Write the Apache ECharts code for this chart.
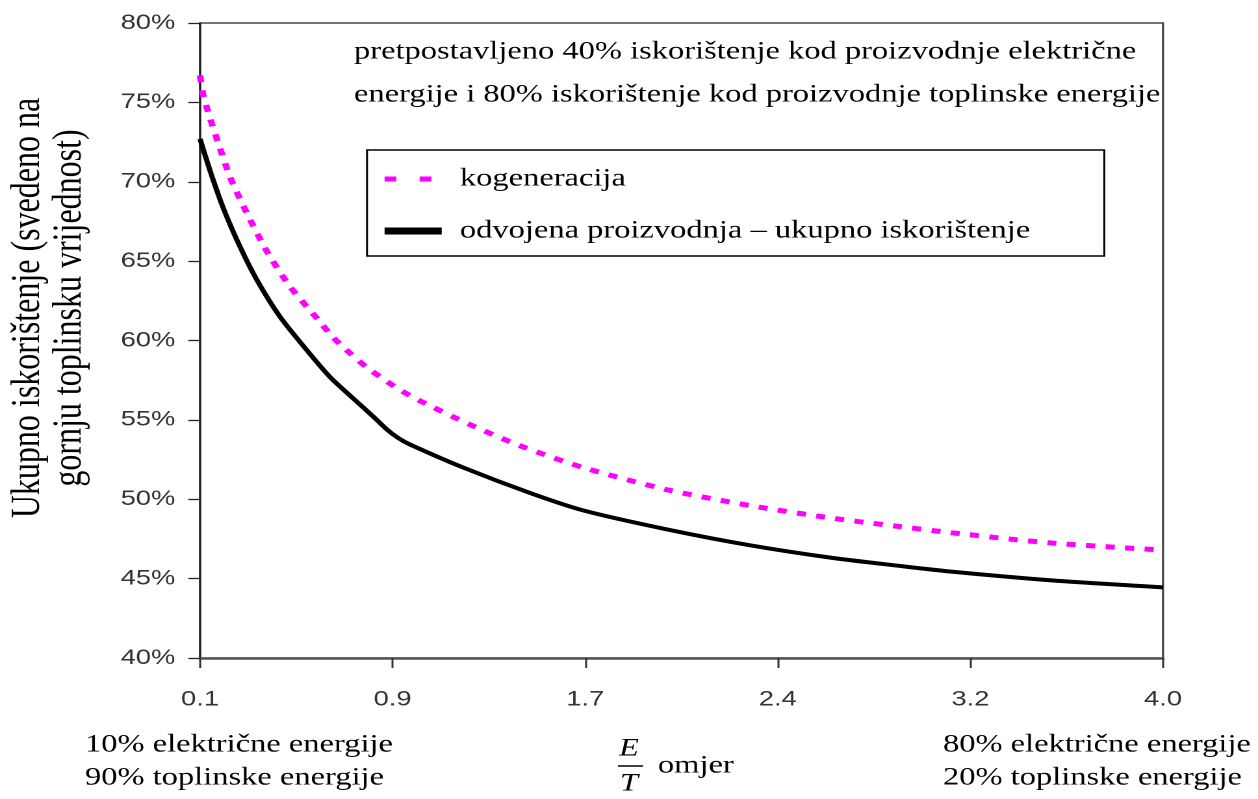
<!DOCTYPE html>
<html>
<head>
<meta charset="utf-8">
<script src="https://cdn.jsdelivr.net/npm/echarts@6/dist/echarts.min.js"></script>
<style>
  html, body { margin: 0; padding: 0; background: #fff; }
  #wrap { width: 1258px; height: 799px; overflow: hidden; position: relative; }
  #chart { width: 968px; height: 799px; transform: scaleX(1.29959); transform-origin: 0 0; }
</style>
</head>
<body>
<div id="wrap"><div id="chart"></div></div>
<script>
// ---- data (x = position along the E/T axis in tick steps, y = %) ----
const xTickLabels = ['0.1', '0.9', '1.7', '2.4', '3.2', '4.0'];
const seriesNames = ['kogeneracija', 'odvojena proizvodnja – ukupno iskorištenje'];

const cogenX = [0, 0.016, 0.052, 0.093, 0.156, 0.244, 0.348, 0.467, 0.607, 0.691, 0.779, 0.867, 1.023, 1.142, 1.402, 1.677, 1.989, 2.425, 2.856, 3.287, 3.619, 3.894, 4.413, 5.0];
const cogenY = [76.7, 75.5, 74.0, 72.5, 70.3, 68.0, 65.6, 63.4, 61.4, 60.2, 59.2, 58.3, 57.0, 56.2, 54.7, 53.3, 52.0, 50.6, 49.6, 48.8, 48.3, 47.9, 47.25, 46.8];

const sepX = [0, 0.052, 0.119, 0.208, 0.296, 0.415, 0.554, 0.675, 0.80, 0.90, 0.97, 1.03, 1.09, 1.366, 1.713, 1.989, 2.425, 2.856, 3.287, 3.634, 3.894, 4.413, 5.0];
const sepY = [72.7, 70.7, 68.4, 65.9, 63.8, 61.5, 59.4, 57.7, 56.3, 55.2, 54.4, 53.85, 53.45, 52.0, 50.4, 49.3, 48.1, 47.1, 46.3, 45.8, 45.45, 44.9, 44.45];

const yAxisTitle = 'Ukupno iskorištenje (svedeno na\ngornju toplinsku vrijednost)';
const noteLines = ['pretpostavljeno 40% iskorištenje kod proizvodnje električne',
                   'energije i 80% iskorištenje kod proizvodnje toplinske energije'];
const leftBottom = ['10% električne energije', '90% toplinske energije'];
const rightBottom = ['80% električne energije', '20% toplinske energije'];

const zip = (xs, ys) => xs.map((x, i) => [x, ys[i]]);
const serif = '"Liberation Serif", "Times New Roman", serif';
const sans = '"Liberation Sans", Arial, sans-serif';

const chart = echarts.init(document.getElementById('chart'), null, { renderer: 'canvas', devicePixelRatio: 2 });

function txt(x, y, text, opts) {
  return {
    type: 'text', x: x, y: y, silent: true,
    style: Object.assign({ text: text, fontFamily: serif, fontSize: 25, fill: '#000', align: 'left', verticalAlign: 'middle' }, opts || {})
  };
}

chart.setOption({
  animation: false,
  grid: { left: 153.9, right: 73.1, top: 23, bottom: 141, show: true, borderColor: '#444', borderWidth: 1.6, backgroundColor: 'transparent' },
  xAxis: {
    type: 'value', min: 0, max: 5, interval: 1,
    axisLine: { show: true, lineStyle: { color: '#555', width: 2.5 } },
    axisTick: { show: true, length: 10, lineStyle: { color: '#333', width: 1.5 } },
    splitLine: { show: false },
    axisLabel: { margin: 31, fontFamily: sans, fontSize: 21, color: '#333', formatter: v => xTickLabels[Math.round(v)] }
  },
  yAxis: {
    type: 'value', min: 40, max: 80, interval: 5,
    axisLine: { show: true, lineStyle: { color: '#222', width: 1.5 } },
    axisTick: { show: true, length: 9, lineStyle: { color: '#222', width: 1.3 } },
    splitLine: { show: false },
    axisLabel: { margin: 19, fontFamily: sans, fontSize: 21, color: '#333', formatter: v => v + '%' }
  },
  legend: {
    orient: 'vertical', left: 282.4, top: 150,
    padding: [14, 57, 10, 10], itemGap: 22,
    itemWidth: 44, itemHeight: 14,
    borderColor: '#000', borderWidth: 1.5, backgroundColor: '#fff',
    itemStyle: { opacity: 0 },
    textStyle: { fontFamily: serif, fontSize: 25, color: '#000', lineHeight: 30, padding: [0, 0, 0, 9] },
    data: [
      { name: seriesNames[0], itemStyle: { opacity: 0 }, lineStyle: { width: 5, type: [9, 18] } },
      { name: seriesNames[1], itemStyle: { opacity: 0 }, lineStyle: { width: 7 } }
    ]
  },
  series: [
    {
      name: seriesNames[0], type: 'line', data: zip(cogenX, cogenY),
      showSymbol: false, symbol: 'none', smooth: 0.25, z: 3,
      itemStyle: { color: '#ff00ff' },
      lineStyle: { color: '#ff00ff', width: 5, type: [7, 8] }
    },
    {
      name: seriesNames[1], type: 'line', data: zip(sepX, sepY),
      showSymbol: false, symbol: 'none', smooth: 0.25, z: 4,
      itemStyle: { color: '#000' },
      lineStyle: { color: '#000', width: 4 }
    }
  ],
  graphic: [
    { type: 'text', x: 37.7, y: 308, rotation: Math.PI / 2, silent: true,
      style: { text: yAxisTitle, fontFamily: serif, fontSize: 32, lineHeight: 32, fill: '#000', align: 'center', verticalAlign: 'middle' } },
    txt(272.4, 52, noteLines[0]),
    txt(272.4, 95, noteLines[1]),
    txt(65.4, 745, leftBottom[0]),
    txt(65.4, 778, leftBottom[1]),
    txt(725.6, 745, rightBottom[0]),
    txt(725.6, 778, rightBottom[1]),
    txt(484, 749, 'E', { fontStyle: 'italic', align: 'center' }),
    txt(484, 784, 'T', { fontStyle: 'italic', align: 'center' }),
    { type: 'line', silent: true, shape: { x1: 475.5, y1: 766, x2: 494.8, y2: 766 }, style: { stroke: '#000', lineWidth: 1.5 } },
    txt(506.3, 766, 'omjer')
  ]
});
</script>
</body>
</html>
